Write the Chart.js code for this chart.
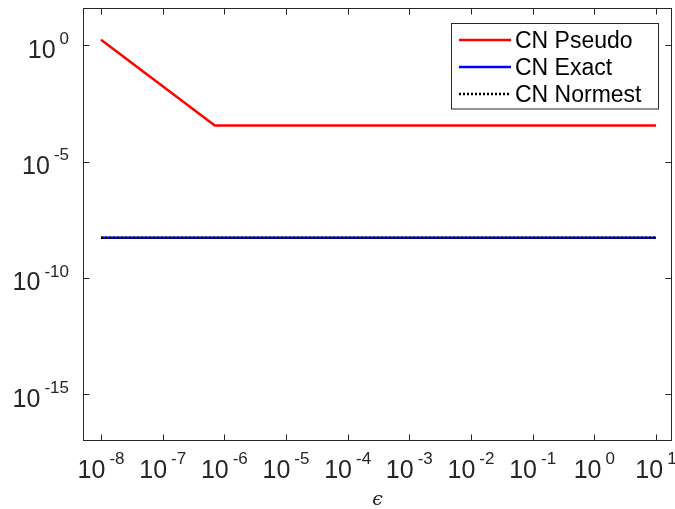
<!DOCTYPE html>
<html>
<head>
<meta charset="utf-8">
<script src="https://cdn.jsdelivr.net/npm/chart.js@4"></script>
<style>
  html, body { margin: 0; padding: 0; background: #fff; }
  #wrap { width: 675px; height: 509px; }
</style>
</head>
<body>
<div id="wrap"><canvas id="cnChart" width="675" height="509"></canvas></div>
<script>
// epsilon sweep and the three condition-number estimates
const epsilons   = [1e-8, 1e-7, 7e-7, 1e-6, 1e-5, 1e-4, 1e-3, 1e-2, 1e-1, 1, 10];
const cnPseudo   = [1.74, 1.74e-2, 3.6e-4, 3.6e-4, 3.6e-4, 3.6e-4, 3.6e-4, 3.6e-4, 3.6e-4, 3.6e-4, 3.6e-4];
const cnExact    = [5.4e-9, 5.4e-9, 5.4e-9, 5.4e-9, 5.4e-9, 5.4e-9, 5.4e-9, 5.4e-9, 5.4e-9, 5.4e-9, 5.4e-9];
const cnNormest  = [5.4e-9, 5.4e-9, 5.4e-9, 5.4e-9, 5.4e-9, 5.4e-9, 5.4e-9, 5.4e-9, 5.4e-9, 5.4e-9, 5.4e-9];
const seriesNames = ['CN Pseudo', 'CN Exact', 'CN Normest'];

// tick exponents (labels are 10^exp)
const xTickExps = [-8, -7, -6, -5, -4, -3, -2, -1, 0, 1];
const yTickExps = [0, -5, -10, -15];

const X_MIN = 5.1e-9, X_MAX = 18.2;
const Y_MIN = 1e-17, Y_MAX = 40;

const AXIS_COLOR = '#262626';
const FONT = '"Liberation Sans", Arial, sans-serif';

const pts = ys => epsilons.map((e, i) => ({ x: e, y: ys[i] }));

// "10" with a raised exponent
function drawPower(ctx, exp, x, baseY, align) {
  ctx.font = `25px ${FONT}`;
  const wb = ctx.measureText('10').width;
  ctx.font = `17px ${FONT}`;
  const sup = String(exp);
  const we = ctx.measureText(sup).width;
  const gap = 4;
  const total = wb + gap + we;
  const left = align === 'center' ? x - total / 2 : x - total;
  ctx.textAlign = 'left';
  ctx.textBaseline = 'alphabetic';
  ctx.font = `25px ${FONT}`;
  ctx.fillText('10', left, baseY);
  ctx.font = `17px ${FONT}`;
  ctx.fillText(sup, left + wb + gap, baseY - 13.7);
}

const framePlugin = {
  id: 'frame',
  afterDatasetsDraw(chart) {
    const { ctx, chartArea: a, scales } = chart;
    const L = Math.round(a.left) + 0.5, R = Math.round(a.right) - 0.5;
    const T = Math.round(a.top) + 0.5, B = Math.round(a.bottom) - 0.5;
    const tick = 6;
    ctx.save();

    // box and inward ticks
    ctx.strokeStyle = AXIS_COLOR;
    ctx.lineWidth = 1;
    ctx.strokeRect(L, T, R - L, B - T);
    ctx.beginPath();
    xTickExps.forEach(e => {
      const px = Math.round(scales.x.getPixelForValue(Math.pow(10, e))) + 0.5;
      ctx.moveTo(px, B); ctx.lineTo(px, B - tick);
      ctx.moveTo(px, T); ctx.lineTo(px, T + tick);
    });
    yTickExps.forEach(e => {
      const py = Math.round(scales.y.getPixelForValue(Math.pow(10, e))) + 0.5;
      ctx.moveTo(L, py); ctx.lineTo(L + tick, py);
      ctx.moveTo(R, py); ctx.lineTo(R - tick, py);
    });
    ctx.stroke();

    // tick labels
    ctx.fillStyle = AXIS_COLOR;
    xTickExps.forEach(e => {
      drawPower(ctx, e, scales.x.getPixelForValue(Math.pow(10, e)), a.bottom + 37, 'center');
    });
    yTickExps.forEach(e => {
      drawPower(ctx, e, a.left - 14, scales.y.getPixelForValue(Math.pow(10, e)) + 12.4, 'right');
    });

    // x axis title
    ctx.font = `italic 19px "DejaVu Serif", "Liberation Serif", serif`;
    ctx.textAlign = 'center';
    ctx.fillText('\u03F5', (a.left + a.right) / 2, 505);

    // legend
    const bx = 451.5, by = 23.5, bw = 207, bh = 85.5;
    ctx.fillStyle = '#fff';
    ctx.fillRect(bx, by, bw, bh);
    ctx.strokeStyle = AXIS_COLOR;
    ctx.lineWidth = 1;
    ctx.strokeRect(bx, by, bw, bh);
    const rows = [40, 67, 94];
    chart.data.datasets.forEach((ds, i) => {
      const y = rows[i];
      ctx.beginPath();
      ctx.strokeStyle = ds.borderColor;
      ctx.lineWidth = ds.borderWidth;
      ctx.setLineDash(ds.borderDash || []);
      ctx.moveTo(459, y); ctx.lineTo(511, y);
      ctx.stroke();
      ctx.setLineDash([]);
      ctx.fillStyle = '#000';
      ctx.font = `23px ${FONT}`;
      ctx.textAlign = 'left';
      ctx.textBaseline = 'alphabetic';
      ctx.fillText(ds.label, 515, y + 8);
    });
    ctx.restore();
  }
};

new Chart(document.getElementById('cnChart'), {
  type: 'line',
  data: {
    datasets: [
      { label: seriesNames[0], data: pts(cnPseudo), borderColor: '#ff0000', borderWidth: 2.5, order: 0 },
      { label: seriesNames[1], data: pts(cnExact), borderColor: '#0000ff', borderWidth: 2.5, order: 2 },
      { label: seriesNames[2], data: pts(cnNormest), borderColor: '#000000', borderWidth: 2.5, borderDash: [2, 2], order: 1 }
    ]
  },
  options: {
    responsive: false,
    animation: false,
    layout: { padding: { left: 83, top: 8, right: 3, bottom: 68 } },
    elements: { point: { radius: 0, hoverRadius: 0 }, line: { tension: 0, fill: false } },
    plugins: { legend: { display: false }, tooltip: { enabled: false } },
    scales: {
      x: { type: 'logarithmic', min: X_MIN, max: X_MAX, bounds: 'data', display: false },
      y: { type: 'logarithmic', min: Y_MIN, max: Y_MAX, display: false }
    }
  },
  plugins: [framePlugin]
});
</script>
</body>
</html>
